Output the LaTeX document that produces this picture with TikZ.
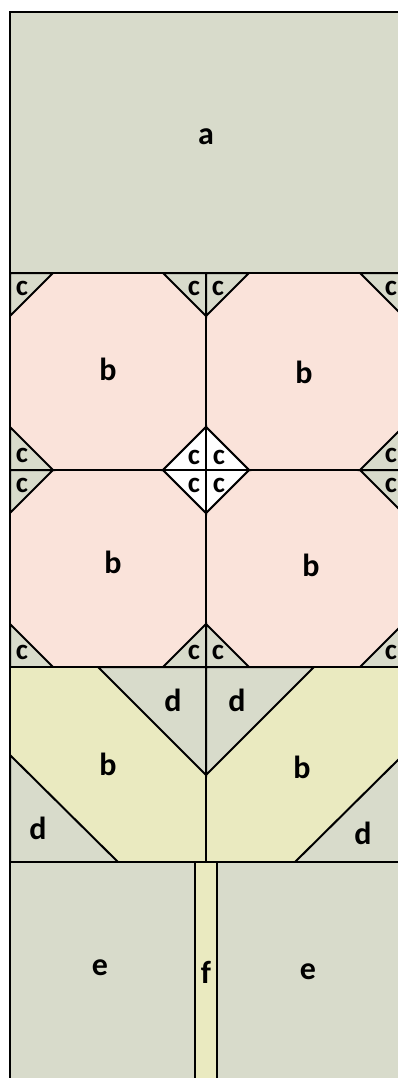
\documentclass[tikz,border=0pt]{standalone}
\usepackage{fontspec}
\setmainfont{Carlito}
\definecolor{gr}{HTML}{D8DBCB}
\definecolor{pk}{HTML}{FAE3DA}
\definecolor{yl}{HTML}{EAEAC0}
\begin{document}
\begin{tikzpicture}[x=1pt,y=-1pt,
  ln/.style={line width=2pt, line join=miter, draw=black},
  lab/.style={font=\bfseries\fontsize{32}{32}\selectfont, inner sep=0pt},
  labs/.style={font=\bfseries\fontsize{29}{29}\selectfont, inner sep=0pt}]
\useasboundingbox (0,0) rectangle (398,1078);
\clip (0,0) rectangle (398,1078);
% a
\filldraw[ln, fill=gr] (10,12) rectangle (403,273);
% octagon cells
\filldraw[ln, fill=pk] (10,273) rectangle (206,470);
\filldraw[ln, fill=pk] (206,273) rectangle (403,470);
\filldraw[ln, fill=pk] (10,470) rectangle (206,667);
\filldraw[ln, fill=pk] (206,470) rectangle (403,667);
% corner triangles
\foreach \cx/\sx [count=\i] in {10/1,206/-1,206/1,403/-1}
  \foreach \cy/\sy [count=\j] in {273/1,470/-1,470/1,667/-1} {
    \filldraw[ln, fill=gr] (\cx,\cy) -- ({\cx+43*\sx},\cy) -- (\cx,{\cy+43*\sy}) -- cycle;
    \node[labs] (c\i\j) at ({\cx+12*\sx},{\cy+15*\sy}) {c};
  }
% centre diamond
\filldraw[ln, fill=white] (163,470) -- (206,427) -- (249,470) -- (206,513) -- cycle;
\draw[ln] (163,470) -- (249,470) (206,427) -- (206,513);
\node[labs] (cd1) at (194,457) {c};
\node[labs] (cd2) at (219,457) {c};
\node[labs] (cd3) at (194,485) {c};
\node[labs] (cd4) at (219,485) {c};
% row 3
\filldraw[ln, fill=yl] (10,667) rectangle (403,862);
\filldraw[ln, fill=gr] (98,667) -- (206,667) -- (206,775) -- cycle;
\filldraw[ln, fill=gr] (206,667) -- (314,667) -- (206,775) -- cycle;
\filldraw[ln, fill=gr] (10,755) -- (118,862) -- (10,862) -- cycle;
\filldraw[ln, fill=gr] (403,755) -- (295,862) -- (403,862) -- cycle;
\draw[ln] (206,775) -- (206,862);
% row 4
\filldraw[ln, fill=gr] (10,862) rectangle (195,1090);
\filldraw[ln, fill=gr] (217,862) rectangle (403,1090);
\filldraw[ln, fill=yl] (195,862) rectangle (217,1090);
% labels
\node[lab] (la) at (206,137) {a};
\node[lab] (b1) at (108,369) {b};
\node[lab] (b2) at (304,372) {b};
\node[lab] (b3) at (113,562) {b};
\node[lab] (b4) at (311,565) {b};
\node[lab] (b5) at (108,764) {b};
\node[lab] (b6) at (302,767) {b};
\node[lab] (d1) at (173,700) {d};
\node[lab] (d2) at (237,700) {d};
\node[lab] (d3) at (38,828) {d};
\node[lab] (d4) at (363,833) {d};
\node[lab] (e1) at (100,968) {e};
\node[lab] (e2) at (308,972) {e};
\node[lab] (f1) at (206,972) {f};
\end{tikzpicture}
\end{document}
